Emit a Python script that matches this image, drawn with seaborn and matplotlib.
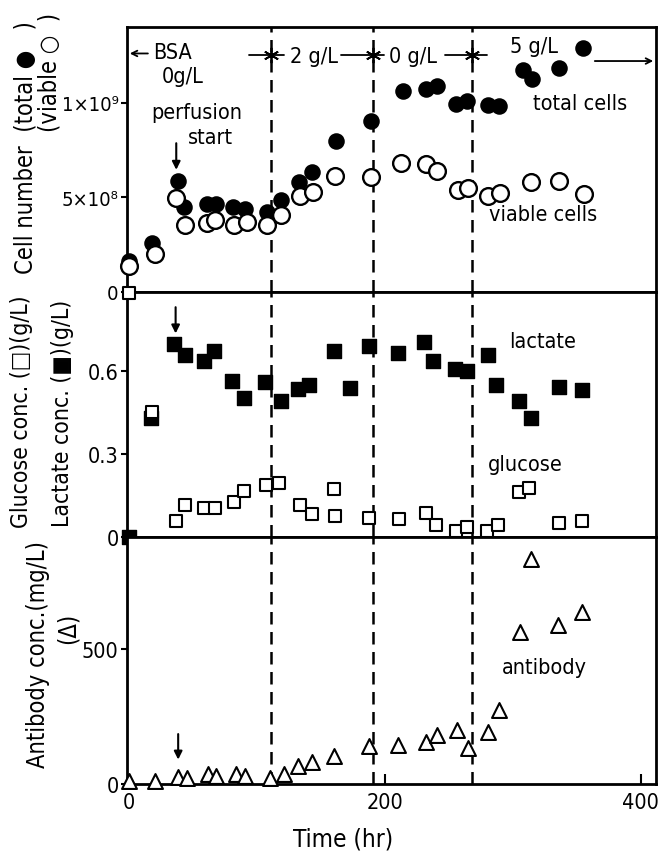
import matplotlib
matplotlib.use("Agg")
import matplotlib.pyplot as plt
import seaborn as sns
import pandas as pd

# ---------------- data ----------------
total_t = [0, 18, 38, 43, 61, 68, 81, 91, 108, 119, 133, 143, 162, 189, 214, 232, 241, 256, 264, 281, 289, 308, 315, 336, 355]
total_cells = [0.165, 0.26, 0.586, 0.446, 0.463, 0.463, 0.446, 0.437, 0.422, 0.486, 0.578, 0.634, 0.797, 0.903,
               1.061, 1.074, 1.088, 0.991, 1.008, 0.986, 0.982, 1.172, 1.123, 1.185, 1.290]  # x1e9

viable_t = [0, 20, 37, 44, 61, 67.5, 82, 92, 108, 119, 133.5, 144, 161, 189, 213, 232.5, 241, 257, 265, 281, 290, 314, 336.5, 356]
viable_cells = [0.137, 0.199, 0.498, 0.352, 0.363, 0.380, 0.352, 0.370, 0.352, 0.405, 0.507, 0.525, 0.612, 0.609,
                0.680, 0.674, 0.639, 0.539, 0.551, 0.504, 0.521, 0.581, 0.586, 0.516]  # x1e9

lactate_t = [0, 17.5, 35.5, 43.5, 59, 66.5, 80.5, 90, 106, 118.5, 132, 141, 160, 172.5, 187.5, 210.5, 231, 237.5,
             255, 264, 281, 287, 305, 314, 336, 354.5]
lactate = [0.0, 0.428, 0.697, 0.656, 0.634, 0.670, 0.564, 0.503, 0.559, 0.491, 0.535, 0.549, 0.670, 0.537, 0.688,
           0.664, 0.703, 0.636, 0.607, 0.600, 0.656, 0.549, 0.491, 0.430, 0.543, 0.531]

glucose_t = [0, 18, 37, 43.5, 59, 67.5, 82, 90, 107, 117.5, 133.5, 143, 160, 161, 188, 211, 232, 240, 255.5, 264,
             280, 288.5, 305, 312.5, 336, 354.5]
glucose = [0.88, 0.452, 0.058, 0.113, 0.103, 0.103, 0.125, 0.164, 0.188, 0.195, 0.113, 0.082, 0.171, 0.074, 0.067,
           0.064, 0.086, 0.042, 0.022, 0.034, 0.022, 0.042, 0.161, 0.176, 0.048, 0.055]

antibody_t = [0, 20, 38.5, 45.5, 62, 68, 84, 91, 110, 121, 132, 143, 160, 188, 210.5, 232, 241, 256.5, 265, 281,
              289, 306, 314, 335.5, 354.5]
antibody = [12, 12, 25, 21, 37, 31, 37, 28, 21, 37, 68, 83, 105, 140, 144, 154, 181, 198, 132, 194, 275, 562, 831,
            589, 638]

phase_changes = [111, 191, 268]
phase_labels = ["2 g/L", "0 g/L", "5 g/L"]

x_ticks = [0, 200, 400]
cell_ticks = [0, 5e8, 1e9]
cell_tick_labels = ["0", "5×10⁸", "1×10⁹"]
conc_ticks = [0, 0.3, 0.6]
conc_tick_labels = ["0", "0.3", "0.6"]
ab_ticks = [0, 500]
ab_tick_labels = ["0", "500"]

df_total = pd.DataFrame({"t": total_t, "v": [v * 1e9 for v in total_cells]})
df_viable = pd.DataFrame({"t": viable_t, "v": [v * 1e9 for v in viable_cells]})
df_lac = pd.DataFrame({"t": lactate_t, "v": lactate})
df_glc = pd.DataFrame({"t": glucose_t, "v": glucose})
df_ab = pd.DataFrame({"t": antibody_t, "v": antibody})

# ---------------- style ----------------
sns.set_style("ticks")
plt.rcParams["font.family"] = ["DejaVu Sans"]
plt.rcParams["font.stretch"] = "condensed"
for k in ("text.color", "axes.labelcolor", "xtick.color", "ytick.color", "axes.edgecolor"):
    plt.rcParams[k] = "black"
FS = 15.5
FSY = 17

W, H = 659, 854
fig = plt.figure(figsize=(W / 100, H / 100), dpi=100)
fig.patch.set_facecolor("white")

def ax_rect(x0, y0, x1, y1):
    return [x0 / W, 1 - y1 / H, (x1 - x0) / W, (y1 - y0) / H]

ax1 = fig.add_axes(ax_rect(127, 28, 656, 292.7))
ax2 = fig.add_axes(ax_rect(127, 292.7, 656, 537.7))
ax3 = fig.add_axes(ax_rect(127, 537.7, 656, 785))

XLIM = (-1.5, 412)
for ax in (ax1, ax2, ax3):
    ax.set_xlim(*XLIM)
    for s in ax.spines.values():
        s.set_linewidth(2.0)
        s.set_color("black")
    for xv in phase_changes:
        ax.axvline(xv, color="black", lw=1.8, ls=(0, (5, 3)), zorder=1)
    ax.set_xticks(x_ticks)
    ax.tick_params(axis="y", direction="out", length=4, width=1.5, labelsize=FS, pad=2, colors="black")
    ax.set_xlabel("")
    ax.set_ylabel("")

ax1.tick_params(axis="y", labelsize=14.5)
ax1.tick_params(axis="x", direction="out", length=7, width=1.5, labelbottom=False)
ax2.tick_params(axis="x", direction="out", length=7, width=1.5, labelbottom=False)
ax3.tick_params(axis="x", direction="in", length=7, width=1.5, labelsize=FS, pad=6, colors="black")

# ---------------- top panel: cells ----------------
sns.scatterplot(data=df_total, x="t", y="v", ax=ax1, marker="o", s=115, color="black",
                edgecolor="black", linewidth=1.2, zorder=3, clip_on=False, legend=False)
sns.scatterplot(data=df_viable, x="t", y="v", ax=ax1, marker="o", s=145, color="white",
                edgecolor="black", linewidth=1.7, zorder=4, clip_on=False, legend=False)
ax1.set_ylim(0, 1.4e9)
ax1.set_yticks(cell_ticks)
ax1.set_yticklabels(cell_tick_labels)
ax1.set_xlabel("")
ax1.set_ylabel("")

# phase annotations
ya = 1.26e9
ax1.annotate("", xy=(XLIM[0], ya), xytext=(17, ya),
             arrowprops=dict(arrowstyle="->", lw=1.3, color="black"))
ax1.text(19, 1.27e9, "BSA", fontsize=FS, ha="left", va="center")
ax1.text(42, 1.14e9, "0g/L", fontsize=FS, ha="center", va="center")
seg_l = [94, 166, 247]
seg_r = [121, 199, 280]
for xv, a, b in zip(phase_changes, seg_l, seg_r):
    ax1.plot([a, b], [1.25e9, 1.25e9], color="black", lw=1.3, zorder=2)
    ax1.plot([xv], [1.25e9], marker=(6, 2, 0), ms=11, color="black", mew=1.3, zorder=2)
ax1.text(145, 1.245e9, phase_labels[0], fontsize=FS, ha="center", va="center",
         bbox=dict(facecolor="white", edgecolor="none", pad=0.5))
ax1.text(222, 1.245e9, phase_labels[1], fontsize=FS, ha="center", va="center",
         bbox=dict(facecolor="white", edgecolor="none", pad=0.5))
ax1.text(317, 1.30e9, phase_labels[2], fontsize=FS, ha="center", va="center")
ax1.annotate("", xy=(XLIM[1], 1.22e9), xytext=(362, 1.22e9),
             arrowprops=dict(arrowstyle="->", lw=1.3, color="black"), annotation_clip=False)

ax1.text(53, 0.95e9, "perfusion", fontsize=FS, ha="center", va="center")
ax1.text(64, 0.82e9, "start", fontsize=FS, ha="center", va="center")
ax1.annotate("", xy=(37, 0.63e9), xytext=(37, 0.80e9),
             arrowprops=dict(arrowstyle="-|>", lw=1.5, color="black", mutation_scale=12))
ax1.text(353, 1.0e9, "total cells", fontsize=FS, ha="center", va="center")
ax1.text(324, 0.41e9, "viable cells", fontsize=FS, ha="center", va="center")

# ---------------- middle panel: glucose / lactate ----------------
sns.scatterplot(data=df_lac, x="t", y="v", ax=ax2, marker="s", s=95, color="black",
                edgecolor="black", linewidth=1.0, zorder=3, clip_on=False, legend=False)
sns.scatterplot(data=df_glc, x="t", y="v", ax=ax2, marker="s", s=85, color="white",
                edgecolor="black", linewidth=1.5, zorder=4, clip_on=False, legend=False)
ax2.set_ylim(0, 0.886)
ax2.set_yticks(conc_ticks)
ax2.set_yticklabels(conc_tick_labels)
ax2.set_xlabel("")
ax2.set_ylabel("")
ax2.annotate("", xy=(36.5, 0.725), xytext=(36.5, 0.84),
             arrowprops=dict(arrowstyle="-|>", lw=1.5, color="black", mutation_scale=12))
ax2.text(323, 0.708, "lactate", fontsize=FS, ha="center", va="center")
ax2.text(310, 0.264, "glucose", fontsize=FS, ha="center", va="center")

# ---------------- bottom panel: antibody ----------------
sns.scatterplot(data=df_ab, x="t", y="v", ax=ax3, marker="^", s=115, color="white",
                edgecolor="black", linewidth=1.5, zorder=4, clip_on=False, legend=False)
ax3.set_ylim(0, 915)
ax3.set_yticks(ab_ticks)
ax3.set_yticklabels(ab_tick_labels)
ax3.set_ylabel("")
ax3.annotate("", xy=(38.5, 80), xytext=(38.5, 195),
             arrowprops=dict(arrowstyle="-|>", lw=1.5, color="black", mutation_scale=12))
ax3.text(325, 433, "antibody", fontsize=FS, ha="center", va="center")
ax3.set_xlabel("Time (hr)", fontsize=FS + 2, color="black")
ax3.xaxis.set_label_coords((343 - 127) / 529, -0.17)

# ---------------- y-axis labels (figure coords) ----------------
def ftext(x, y, s, size=FSY):
    fig.text(x / W, 1 - y / H, s, rotation=90, ha="center", va="center", fontsize=size, color="black")

ftext(26, 148, "Cell number  (total ●   )")
ftext(49, 72, "(viable ○  )")
ftext(22, 412, "Glucose conc. (□)(g/L)", FSY - 0.5)
ftext(62, 413, "Lactate conc. (■)(g/L)", FSY - 0.5)
ftext(38, 655, "Antibody conc.(mg/L)")
ftext(68, 628, "(Δ)")

fig.savefig("out.png", dpi=100, facecolor="white")
